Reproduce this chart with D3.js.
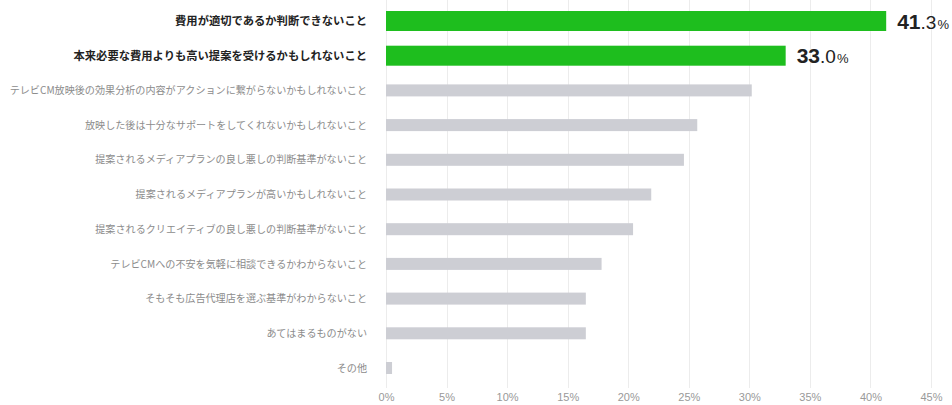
<!DOCTYPE html>
<html>
<head>
<meta charset="utf-8">
<script src="https://cdn.jsdelivr.net/npm/d3@7"></script>
<style>
  body { margin: 0; background: #fff; }
  svg { display: block; }
  .label { font-family: "Noto Sans CJK JP", sans-serif; }
  .tick text { font-family: "Liberation Sans", Arial, sans-serif; }
</style>
</head>
<body>
<svg id="chart" width="952" height="405"></svg>
<script>
// data
const categories = [
  "費用が適切であるか判断できないこと",
  "本来必要な費用よりも高い提案を受けるかもしれないこと",
  "テレビCM放映後の効果分析の内容がアクションに繋がらないかもしれないこと",
  "放映した後は十分なサポートをしてくれないかもしれないこと",
  "提案されるメディアプランの良し悪しの判断基準がないこと",
  "提案されるメディアプランが高いかもしれないこと",
  "提案されるクリエイティブの良し悪しの判断基準がないこと",
  "テレビCMへの不安を気軽に相談できるかわからないこと",
  "そもそも広告代理店を選ぶ基準がわからないこと",
  "あてはまるものがない",
  "その他"
];
const values = [41.3, 33.0, 30.2, 25.7, 24.6, 21.9, 20.4, 17.8, 16.5, 16.5, 0.5];
const highlighted = [true, true, false, false, false, false, false, false, false, false, false];
const tickValues = [0, 5, 10, 15, 20, 25, 30, 35, 40, 45];

const svg = d3.select("#chart");

let x = d3.scaleLinear().domain([0, 45]).range([386, 931]);
let y = d3.scaleBand().domain(categories).range([3.65, 385.35]);

// gridlines
svg.append("g")
    .selectAll("line")
    .data(tickValues)
    .join("line")
    .attr("x1", d => Math.round(x(d)) + 0.5)
    .attr("x2", d => Math.round(x(d)) + 0.5)
    .attr("y1", 0)
    .attr("y2", 388)
    .attr("stroke", "#ececec");

// x axis labels
svg.append("g")
    .attr("transform", "translate(0,387)")
    .call(d3.axisBottom(x).tickValues(tickValues).tickSize(0).tickPadding(6).tickFormat(d => d + "%"))
    .call(g => g.select(".domain").remove())
    .selectAll("text")
    .attr("fill", "#999")
    .attr("font-size", 11);

// bars
svg.append("g")
    .selectAll("rect")
    .data(categories)
    .join("rect")
    .attr("x", x(0))
    .attr("width", (d, i) => x(values[i]) - x(0))
    .attr("y", (d, i) => y(d) + y.bandwidth() / 2 - (highlighted[i] ? 10 : 6))
    .attr("height", (d, i) => highlighted[i] ? 20 : 12)
    .attr("fill", (d, i) => highlighted[i] ? "#1ebe1e" : "#cdced4");

// category labels
svg.append("g")
    .selectAll("text")
    .data(categories)
    .join("text")
    .attr("class", "label")
    .attr("x", 367)
    .attr("y", d => y(d) + y.bandwidth() / 2)
    .attr("dy", "0.36em")
    .attr("text-anchor", "end")
    .attr("font-size", (d, i) => highlighted[i] ? 11.3 : 10.1)
    .attr("font-weight", (d, i) => highlighted[i] ? "bold" : "normal")
    .attr("fill", (d, i) => highlighted[i] ? "#222" : "#8c8c8c")
    .text(d => d);

// value labels for highlighted bars
const valueLabels = svg.append("g")
    .selectAll("text")
    .data(categories.filter((d, i) => highlighted[i]))
    .join("text")
    .attr("x", (d, i) => x(values[i]) + 11)
    .attr("y", d => y(d) + y.bandwidth() / 2 + 7.5)
    .attr("font-family", "'Liberation Sans', Arial, sans-serif")
    .attr("fill", "#222");

valueLabels.append("tspan")
    .attr("font-size", 21)
    .attr("font-weight", "bold")
    .text((d, i) => values[i].toFixed(1).split(".")[0]);
valueLabels.append("tspan")
    .attr("font-size", 19)
    .text((d, i) => "." + values[i].toFixed(1).split(".")[1]);
valueLabels.append("tspan")
    .attr("font-size", 13)
    .attr("dx", 1)
    .text("%");
</script>
</body>
</html>
